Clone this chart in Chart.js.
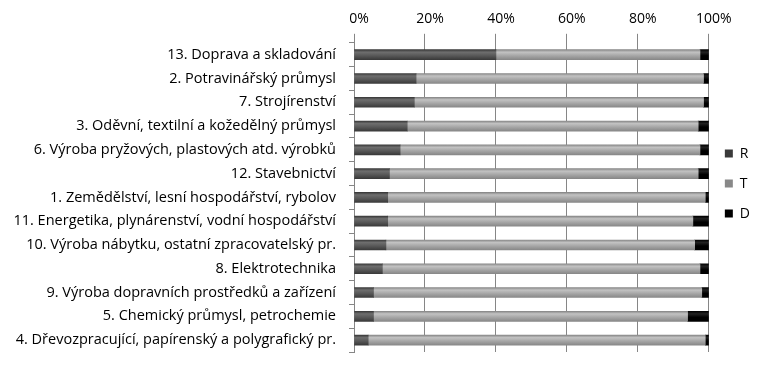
<!DOCTYPE html>
<html>
<head>
<meta charset="utf-8">
<script src="https://cdn.jsdelivr.net/npm/chart.js@4"></script>
<style>
    html, body { margin: 0; padding: 0; background: #fff; }
    #wrap { width: 763px; height: 368px; }
</style>
</head>
<body>
<div id="wrap"><canvas id="chart"></canvas></div>
<script>
// data (percent of each sector)
const categories = [
    "13. Doprava a skladování",
    "2. Potravinářský průmysl",
    "7. Strojírenství",
    "3. Oděvní, textilní a kožedělný průmysl",
    "6. Výroba pryžových, plastových atd. výrobků",
    "12. Stavebnictví",
    "1. Zemědělství, lesní hospodářství, rybolov",
    "11. Energetika, plynárenství, vodní hospodářství",
    "10. Výroba nábytku, ostatní zpracovatelský pr.",
    "8. Elektrotechnika",
    "9. Výroba dopravních prostředků a zařízení",
    "5. Chemický průmysl, petrochemie",
    "4. Dřevozpracující, papírenský a polygrafický pr."
];
const valuesR = [40, 17.5, 17, 15, 13, 10, 9.5, 9.5, 9, 8, 5.5, 5.5, 4];
const valuesT = [57.5, 81, 81.5, 82, 84.5, 87, 89.5, 86, 87, 89.5, 92.5, 88.5, 95];
const valuesD = [2.5, 1.5, 1.5, 3, 2.5, 3, 1, 4.5, 4, 2.5, 2, 6, 1];
const tickLabels = ["0%", "20%", "40%", "60%", "80%", "100%"];

document.addEventListener("DOMContentLoaded", () => {

    const canvas = document.getElementById("chart");
    const ctx = canvas.getContext("2d");

    const BAR = 10;
    const FONT = "Open Sans";

    // cylinder-ish shading: dark edge, light top, darker bottom
    function shade(flat, light, dark) {
        return function (c) {
            if (c.dataIndex === undefined || !c.chart.scales || !c.chart.scales.y) return flat;
            const y = c.chart.scales.y.getPixelForValue(c.dataIndex);
            if (!isFinite(y)) return flat;
            const g = c.chart.ctx.createLinearGradient(0, y - BAR / 2, 0, y + BAR / 2);
            g.addColorStop(0, dark);
            g.addColorStop(0.25, light);
            g.addColorStop(0.6, flat);
            g.addColorStop(1, dark);
            return g;
        };
    }

    new Chart(ctx, {
        type: "bar",
        data: {
            labels: categories,
            datasets: [
                { label: "R", data: valuesR, backgroundColor: shade("#585858", "#6e6e6e", "#3a3a3a") },
                { label: "T", data: valuesT, backgroundColor: shade("#a6a6a6", "#c2c2c2", "#888888") },
                { label: "D", data: valuesD, backgroundColor: shade("#000000", "#222222", "#000000") }
            ]
        },
        options: {
            indexAxis: "y",
            responsive: true,
            maintainAspectRatio: false,
            animation: false,
            barThickness: BAR,
            layout: { padding: { top: 5, right: 3, bottom: 16, left: 0 } },
            scales: {
                x: {
                    position: "top",
                    stacked: true,
                    min: 0,
                    max: 100,
                    ticks: {
                        stepSize: 20,
                        color: "#000",
                        font: { family: FONT, size: 14 },
                        padding: 6,
                        labelOffset: 5,
                        callback: (v, i) => tickLabels[i]
                    },
                    grid: { color: "#868686", tickLength: 9 },
                    border: { display: false }
                },
                y: {
                    stacked: true,
                    afterFit: (scale) => {
                        scale.width = 354;
                        scale.paddingTop = 0;
                        scale.paddingBottom = 0;
                    },
                    ticks: {
                        color: "#000",
                        font: { family: FONT, size: 14.5 },
                        padding: 13
                    },
                    grid: { offset: true, drawOnChartArea: false, color: "#868686", tickLength: 5 },
                    border: { display: true, color: "#868686" }
                }
            },
            plugins: {
                legend: {
                    position: "right",
                    title: { display: true, text: " ", font: { size: 1 }, padding: { top: 9, bottom: 0 } },
                    labels: {
                        color: "#000",
                        boxWidth: 8,
                        boxHeight: 8,
                        padding: 16,
                        font: { family: FONT, size: 14 }
                    }
                },
                tooltip: { enabled: false }
            }
        }
    });

});
</script>
</body>
</html>
